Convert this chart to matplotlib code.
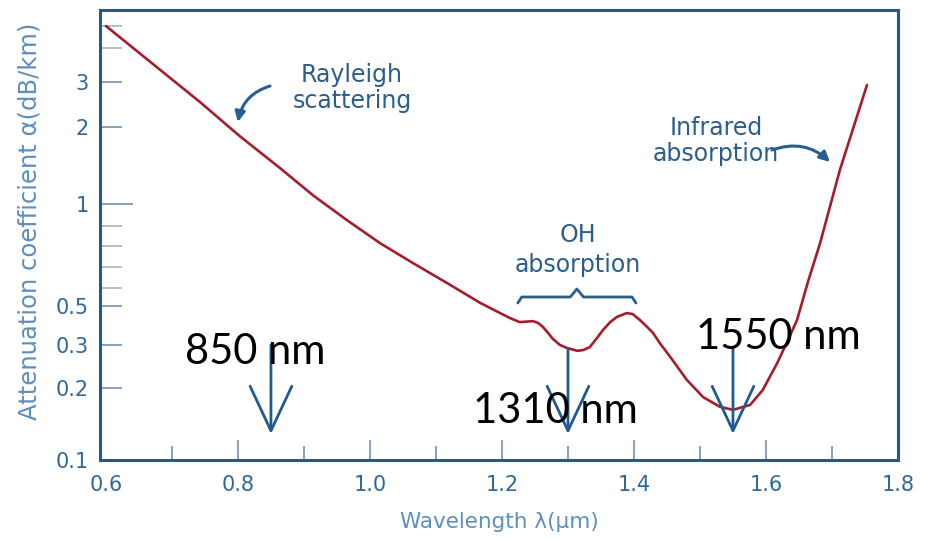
import numpy as np
import matplotlib
matplotlib.use("Agg")
import matplotlib.pyplot as plt
import matplotlib.transforms as mtransforms

# ---------------- data ----------------
wavelength_um = [0.600, 0.667, 0.742, 0.803, 0.864, 0.914, 0.965, 1.015, 1.065, 1.117,
                 1.167, 1.197, 1.212, 1.227, 1.247, 1.255, 1.262, 1.270, 1.277, 1.288,
                 1.298, 1.314, 1.323, 1.333, 1.344, 1.353, 1.364, 1.374, 1.389, 1.398,
                 1.409, 1.420, 1.429, 1.439, 1.455, 1.480, 1.505, 1.530, 1.550, 1.576,
                 1.595, 1.617, 1.632, 1.647, 1.664, 1.682, 1.712, 1.753]
attenuation_db_km = [5.0, 3.56, 2.51, 1.84, 1.38, 1.08, 0.926, 0.814, 0.718, 0.622,
                     0.516, 0.456, 0.427, 0.405, 0.410, 0.400, 0.380, 0.351, 0.325, 0.300,
                     0.292, 0.284, 0.286, 0.294, 0.329, 0.365, 0.405, 0.433, 0.456, 0.450,
                     0.416, 0.380, 0.351, 0.308, 0.268, 0.216, 0.183, 0.167, 0.162, 0.170,
                     0.196, 0.253, 0.312, 0.416, 0.632, 0.814, 1.36, 2.92]

windows_um = [0.85, 1.30, 1.55]
window_labels = ["850 nm", "1310 nm", "1550 nm"]
oh_band_um = [1.224, 1.403]

x_major = [0.6, 0.8, 1.0, 1.2, 1.4, 1.6, 1.8]
x_minor = [0.7, 0.9, 1.1, 1.3, 1.5, 1.7]
x_ticklabels = ["0.6", "0.8", "1.0", "1.2", "1.4", "1.6", "1.8"]
y_labeled = [0.1, 0.2, 0.3, 0.5, 1, 2, 3]
y_ticklabels = ["0.1", "0.2", "0.3", "0.5", "1", "2", "3"]
y_unlabeled = [0.6, 0.7, 0.8, 0.9, 4, 5]

# the drawing's own (irregular) attenuation axis: value -> height in px
scale_values = [0.01, 0.1, 0.2, 0.3, 0.5, 0.6, 0.7, 0.8, 0.9, 1, 2, 3, 4, 5, 10]
scale_heights = [-239, 0, 72, 115, 154, 172, 193, 214, 234, 256, 333, 378, 412, 434, 502]
_logs = np.log10(scale_values)


def fwd(v):
    v = np.asarray(v, dtype=float)
    return np.interp(np.log10(np.maximum(v, 1e-9)), _logs, scale_heights)


def inv(h):
    h = np.asarray(h, dtype=float)
    return 10 ** np.interp(h, scale_heights, _logs)


# ---------------- style ----------------
SPINE = "#1f5b91"
TICK = "#7d9cb8"
LABEL = "#2f6899"
AXLABEL = "#5d8fbd"
NOTE = "#2a5e8e"
CURVE = "#a51d2d"

W, H = 926, 540
L, R, T, B = 100, 898, 10, 460

fig = plt.figure(figsize=(W / 100, H / 100), dpi=100)
ax = fig.add_axes([L / W, (H - B) / H, (R - L) / W, (B - T) / H])
ax.set_yscale("function", functions=(fwd, inv))
ax.set_xlim(0.591, 1.800)
ax.set_ylim(0.1, float(inv(450)))

ax.plot(wavelength_um, attenuation_db_km, color=CURVE, lw=1.9,
        solid_joinstyle="round", solid_capstyle="round")

for s in ax.spines.values():
    s.set_color(SPINE)
    s.set_linewidth(2.2)

ax.set_xticks(x_major)
ax.set_xticklabels(x_ticklabels)
ax.set_xticks(x_minor, minor=True)
ax.set_yticks(y_labeled)
ax.set_yticklabels(y_ticklabels)
ax.set_yticks(y_unlabeled, minor=True)
ax.yaxis.set_minor_formatter(plt.NullFormatter())

ax.tick_params(axis="x", which="major", direction="in", length=14.5, width=1.3,
               color=TICK, labelcolor=LABEL, labelsize=15, pad=11)
ax.tick_params(axis="x", which="minor", direction="in", length=10, width=1.3, color=TICK)
ax.tick_params(axis="y", which="major", direction="in", length=16, width=1.3,
               color=TICK, labelcolor=LABEL, labelsize=15, pad=8)
ax.tick_params(axis="y", which="minor", direction="in", length=16, width=1.3, color="#a9bccd")
for val, t in zip(y_labeled, ax.yaxis.get_major_ticks()):
    if val == 1:
        t.tick1line.set_markersize(24)
xt = ax.xaxis.get_major_ticks()
for t in (xt[0], xt[-1]):
    t.tick1line.set_visible(False)

ax.set_xlabel("Wavelength λ(μm)", color=AXLABEL, fontsize=15.5, labelpad=12)
ax.set_ylabel("Attenuation coefficient α(dB/km)", color=AXLABEL, fontsize=17.5)
ax.yaxis.set_label_coords(-0.073, 0.53)


def frac(px, py):
    return ((px - L) / (R - L), (B - py) / (B - T))


# blended: x in data, y in axes fraction
blend = mtransforms.blended_transform_factory(ax.transData, ax.transAxes)


def fy(py):
    return (B - py) / (B - T)


# annotations
ax.text(*frac(352, 88), "Rayleigh\nscattering", transform=ax.transAxes, ha="center",
        va="center", fontsize=17, color=NOTE, linespacing=1.15)
ax.annotate("", xy=frac(238, 122), xycoords="axes fraction", xytext=frac(270, 86),
            textcoords="axes fraction",
            arrowprops=dict(arrowstyle="-|>,head_length=0.6,head_width=0.3", color=NOTE,
                            lw=2.2, connectionstyle="arc3,rad=0.3", shrinkA=0, shrinkB=0))

ax.text(*frac(716, 141), "Infrared\nabsorption", transform=ax.transAxes, ha="center",
        va="center", fontsize=17, color=NOTE, linespacing=1.15)
ax.annotate("", xy=frac(830, 162), xycoords="axes fraction", xytext=frac(772, 150),
            textcoords="axes fraction",
            arrowprops=dict(arrowstyle="-|>,head_length=0.6,head_width=0.3", color=NOTE,
                            lw=2.2, connectionstyle="arc3,rad=-0.3", shrinkA=0, shrinkB=0))

ax.text(*frac(578, 250), "OH\nabsorption", transform=ax.transAxes, ha="center",
        va="center", fontsize=17, color=NOTE, linespacing=1.3)
mid = 0.5 * (oh_band_um[0] + oh_band_um[1])
bx = [oh_band_um[0], oh_band_um[0] + 0.006, mid - 0.010, mid, mid + 0.010,
      oh_band_um[1] - 0.006, oh_band_um[1]]
by = [fy(p) for p in [303, 297, 297, 289, 297, 297, 303]]
ax.plot(bx, by, transform=blend, color=NOTE, lw=2.0, solid_joinstyle="round",
        solid_capstyle="round")

# laser window arrows and labels
arrow_tops = [345, 350, 347]
label_pos = [(255, 352), (555, 411), (778, 337)]
for wl, top, lab, (lx, ly) in zip(windows_um, arrow_tops, window_labels, label_pos):
    ax.annotate("", xy=(wl, fy(434)), xycoords=blend, xytext=(wl, fy(top)),
                textcoords=blend,
                arrowprops=dict(arrowstyle="->,head_length=32,head_width=15",
                                mutation_scale=1, color=SPINE, lw=2.0,
                                shrinkA=0, shrinkB=0))
    ax.text(*frac(lx, ly), lab, transform=ax.transAxes, ha="center", va="center",
            fontsize=30, color="black", family=["Lato", "DejaVu Sans"])

fig.savefig("out.png", dpi=100)
